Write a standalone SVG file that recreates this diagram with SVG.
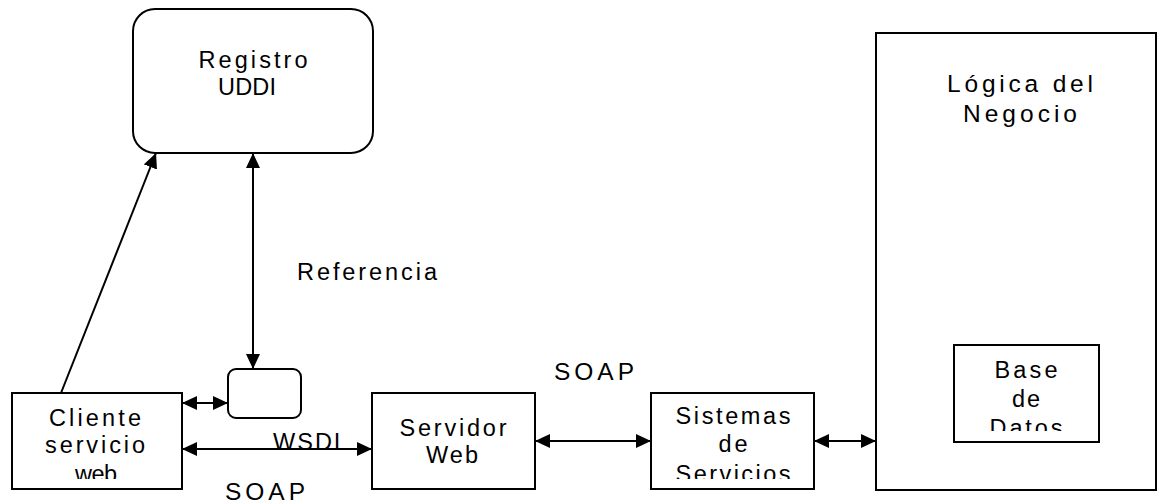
<svg xmlns="http://www.w3.org/2000/svg" width="1164" height="503" viewBox="0 0 1164 503">
  <style>
    .box { fill: #ffffff; stroke: #000000; stroke-width: 2; }
    .lbl { font-family: "Liberation Sans", Arial, sans-serif; font-size: 23.5px; fill: #000000; text-anchor: middle; }
    .big { font-size: 24.5px; }
    .wire { fill: none; stroke: #000000; stroke-width: 2; }
  </style>
  <defs>
    <marker id="head" viewBox="0 0 15 14" refX="15" refY="7" markerWidth="15" markerHeight="14" markerUnits="userSpaceOnUse" orient="auto-start-reverse">
      <path d="M0,0 L15,7 L0,14 Z" fill="#000000"/>
    </marker>
    <clipPath id="clipCliente"><rect x="12" y="393" width="170" height="86"/></clipPath>
    <clipPath id="clipSistemas"><rect x="651" y="393" width="163" height="86"/></clipPath>
    <clipPath id="clipBase"><rect x="954" y="345" width="145" height="86"/></clipPath>
  </defs>

  <rect width="1164" height="503" fill="#ffffff"/>

  <!-- Lógica del Negocio (container) -->
  <g id="logica">
    <rect class="box" x="876" y="33" width="280" height="457"/>
    <text class="lbl big" x="1020" y="92" textLength="146" lengthAdjust="spacing">Lógica del</text>
    <text class="lbl big" x="1020" y="122" textLength="114" lengthAdjust="spacing">Negocio</text>
  </g>

  <g id="basedatos">
    <rect class="box" x="954" y="345" width="145" height="97"/>
    <g clip-path="url(#clipBase)">
      <text class="lbl" x="1026" y="378" textLength="63" lengthAdjust="spacing">Base</text>
      <text class="lbl" x="1026" y="407" textLength="28" lengthAdjust="spacing">de</text>
      <text class="lbl" x="1026" y="436" textLength="73" lengthAdjust="spacing">Datos</text>
    </g>
  </g>

  <g id="registro">
    <rect class="box" x="133" y="9" width="240" height="144" rx="22" ry="22"/>
    <text class="lbl" x="253" y="68" textLength="109" lengthAdjust="spacing">Registro</text>
    <text class="lbl" x="247" y="95" textLength="58" lengthAdjust="spacing">UDDI</text>
  </g>

  <g id="wsdl-doc">
    <rect class="box" x="228" y="369" width="73" height="49" rx="8" ry="8"/>
  </g>

  <g id="cliente">
    <rect class="box" x="12" y="393" width="170" height="96"/>
    <g clip-path="url(#clipCliente)">
      <text class="lbl" x="95" y="426" textLength="92" lengthAdjust="spacing">Cliente</text>
      <text class="lbl" x="95" y="453" textLength="100" lengthAdjust="spacing">servicio</text>
      <text class="lbl" x="96" y="482" textLength="42" lengthAdjust="spacing">web</text>
    </g>
  </g>

  <g id="servidor">
    <rect class="box" x="372" y="393" width="163" height="96"/>
    <text class="lbl" x="453" y="436" textLength="107" lengthAdjust="spacing">Servidor</text>
    <text class="lbl" x="452" y="463" textLength="52" lengthAdjust="spacing">Web</text>
  </g>

  <g id="sistemas">
    <rect class="box" x="651" y="393" width="163" height="96"/>
    <g clip-path="url(#clipSistemas)">
      <text class="lbl" x="733" y="424" textLength="115" lengthAdjust="spacing">Sistemas</text>
      <text class="lbl" x="733" y="452" textLength="29" lengthAdjust="spacing">de</text>
      <text class="lbl" x="733" y="482" textLength="115" lengthAdjust="spacing">Servicios</text>
    </g>
  </g>

  <!-- connectors -->
  <g id="connectors">
    <line class="wire" x1="61" y1="393" x2="156" y2="153" marker-end="url(#head)"/>
    <line class="wire" x1="253" y1="153" x2="253" y2="369" marker-start="url(#head)" marker-end="url(#head)"/>
    <line class="wire" x1="182" y1="403" x2="228" y2="403" marker-start="url(#head)" marker-end="url(#head)"/>
    <line class="wire" x1="182" y1="449" x2="372" y2="449" marker-start="url(#head)" marker-end="url(#head)"/>
    <line class="wire" x1="535" y1="441" x2="651" y2="441" marker-start="url(#head)" marker-end="url(#head)"/>
    <line class="wire" x1="814" y1="441" x2="876" y2="441" marker-start="url(#head)" marker-end="url(#head)"/>
  </g>

  <!-- connector labels -->
  <g id="labels">
    <text class="lbl" x="367" y="280" textLength="140" lengthAdjust="spacing">Referencia</text>
    <text class="lbl" x="310" y="450" textLength="74" lengthAdjust="spacing">WSDL</text>
    <text class="lbl big" x="265" y="500" textLength="80" lengthAdjust="spacing">SOAP</text>
    <text class="lbl big" x="594" y="380" textLength="80" lengthAdjust="spacing">SOAP</text>
  </g>
</svg>
